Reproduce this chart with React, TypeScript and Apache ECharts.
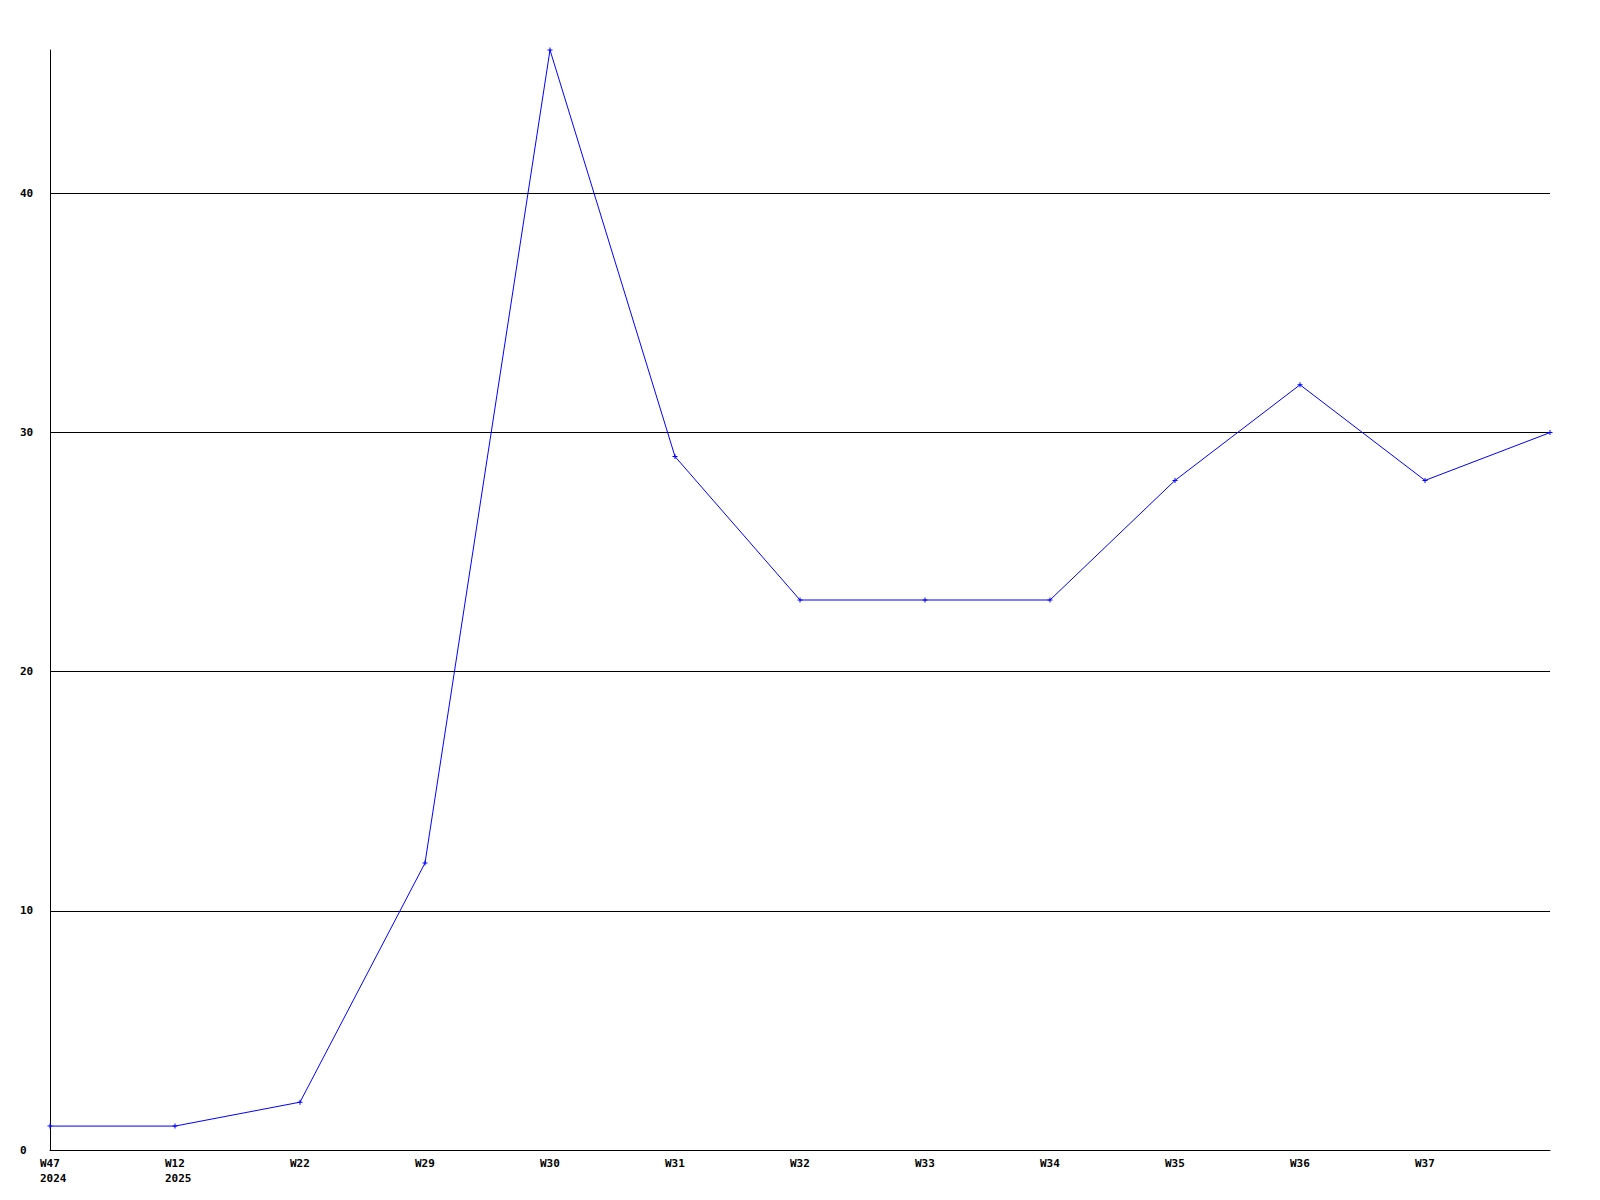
import React, { useEffect, useRef } from "react";
import * as echarts from "echarts";

const categories = ["W47\n2024", "W12\n2025", "W22", "W29", "W30", "W31", "W32", "W33", "W34", "W35", "W36", "W37", ""];
const values = [1, 1, 2, 12, 46, 29, 23, 23, 23, 28, 32, 28, 30];
const yMin = 0;
const yMax = 46;
const yInterval = 10;

const FONT = "'DejaVu Sans Mono', monospace";

export default function App() {
  const ref = useRef<HTMLDivElement>(null);
  useEffect(() => {
    if (!ref.current) return;
    const chart = echarts.init(ref.current, undefined, { renderer: "svg" });
    chart.setOption({
      animation: false,
      backgroundColor: "#ffffff",
      grid: { left: 50, right: 50, top: 50, bottom: 50, containLabel: false },
      xAxis: {
        type: "category",
        data: categories,
        boundaryGap: false,
        axisLine: { show: true, lineStyle: { color: "#000000", width: 1 } },
        axisTick: { show: false },
        splitLine: { show: false },
        axisLabel: {
          interval: 0,
          align: "left",
          padding: [0, 0, 0, -10],
          margin: 6,
          color: "#000000",
          fontFamily: FONT,
          fontWeight: "bold",
          fontSize: 11,
          lineHeight: 15,
        },
      },
      yAxis: {
        type: "value",
        min: yMin,
        max: yMax,
        interval: yInterval,
        axisLine: { show: true, lineStyle: { color: "#000000", width: 1 } },
        axisTick: { show: false },
        splitLine: { show: true, showMinLine: false, showMaxLine: false, lineStyle: { color: "#000000", width: 1 } },
        axisLabel: {
          showMaxLabel: false,
          align: "left",
          margin: 30,
          color: "#000000",
          fontFamily: FONT,
          fontWeight: "bold",
          fontSize: 11,
        },
      },
      series: [
        {
          type: "line",
          data: values,
          symbol: "path://M2 0h1v2h2v1h-2v2h-1v-2h-2v-1h2z",
          symbolSize: 5,
          showAllSymbol: true,
          lineStyle: { color: "#0000ff", width: 1 },
          itemStyle: { color: "#0000ff" },
          emphasis: { disabled: true },
        },
      ],
    });
    return () => chart.dispose();
  }, []);
  return (
    <div
      ref={ref}
      style={{ position: "fixed", left: 0, top: 0, width: 1600, height: 1200, background: "#fff" }}
    />
  );
}
